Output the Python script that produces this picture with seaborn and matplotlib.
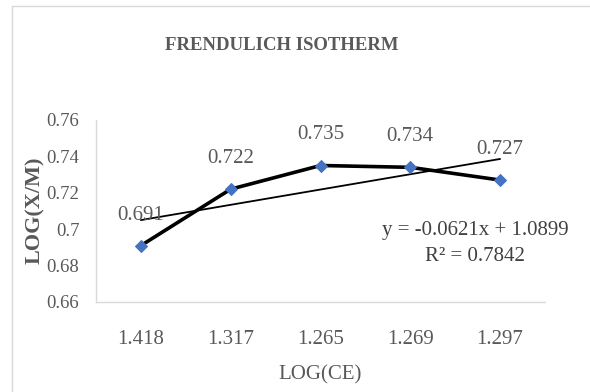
import numpy as np
import pandas as pd
import matplotlib
matplotlib.use("Agg")
import matplotlib.pyplot as plt
import seaborn as sns
from matplotlib.lines import Line2D

# data
log_ce = ["1.418", "1.317", "1.265", "1.269", "1.297"]
log_xm = [0.691, 0.722, 0.735, 0.734, 0.727]
y_ticks = [0.66, 0.68, 0.70, 0.72, 0.74, 0.76]
y_tick_labels = ["0.66", "0.68", "0.7", "0.72", "0.74", "0.76"]
eq_text = "y = -0.0621x + 1.0899\nR² = 0.7842"

df = pd.DataFrame({"pos": np.arange(len(log_ce)), "log_ce": log_ce, "log_xm": log_xm})

sns.set_style("white")
plt.rcParams["font.family"] = ["Liberation Serif", "DejaVu Serif"]

gray = "#595959"
fig = plt.figure(figsize=(5.9, 3.92), dpi=100)
ax = fig.add_axes([96 / 590, 1 - 302 / 392, (545 - 96) / 590, (302 - 120) / 392])

# chart frame (light border top-left like the Excel chart area)
fig.add_artist(Line2D([12 / 590, 1], [1 - 6 / 392, 1 - 6 / 392], transform=fig.transFigure, color="#D9D9D9", lw=1))
fig.add_artist(Line2D([12 / 590, 12 / 590], [0, 1 - 6 / 392], transform=fig.transFigure, color="#D9D9D9", lw=1))

# linear trendline over category index (as Excel does)
sns.regplot(data=df, x="pos", y="log_xm", ax=ax, scatter=False, ci=None, truncate=True,
            line_kws=dict(color="black", lw=1.3))

sns.lineplot(data=df, x="pos", y="log_xm", ax=ax, sort=False, color="black", lw=2.6,
             marker="D", markersize=6.5, markerfacecolor="#4472C4", markeredgecolor="#4472C4")

for _, r in df.iterrows():
    ax.annotate(f"{r.log_xm:.3f}", (r.pos, r.log_xm), xytext=(0, 22), textcoords="offset points",
                ha="center", va="center", fontsize=15, color=gray)

ax.text(3.72, 0.692, eq_text, ha="center", va="center", fontsize=15, color="#404040",
        multialignment="center", linespacing=1.5)

ax.set_xlim(-0.5, 4.5)
ax.set_ylim(0.66, 0.76)
ax.set_xticks(df["pos"], log_ce)
ax.set_yticks(y_ticks, y_tick_labels)
ax.tick_params(axis="both", length=0, labelcolor=gray)
ax.tick_params(axis="x", pad=20, labelsize=15)
ax.tick_params(axis="y", pad=12, labelsize=13.5)

for s in ["top", "right"]:
    ax.spines[s].set_visible(False)
for s in ["left", "bottom"]:
    ax.spines[s].set_color("#D9D9D9")
    ax.spines[s].set_linewidth(1)

ax.set_xlabel("LOG(CE)", fontsize=15, color=gray, labelpad=12)
ax.set_ylabel("LOG(X/M)", fontsize=16, color=gray, fontweight="bold")
ax.yaxis.set_label_coords(-0.113, 0.505)
fig.text(282 / 590, 1 - 45 / 392, "FRENDULICH ISOTHERM", ha="center", va="center",
         fontsize=13.5, fontweight="bold", color=gray)

fig.savefig("out.png", dpi=100)
